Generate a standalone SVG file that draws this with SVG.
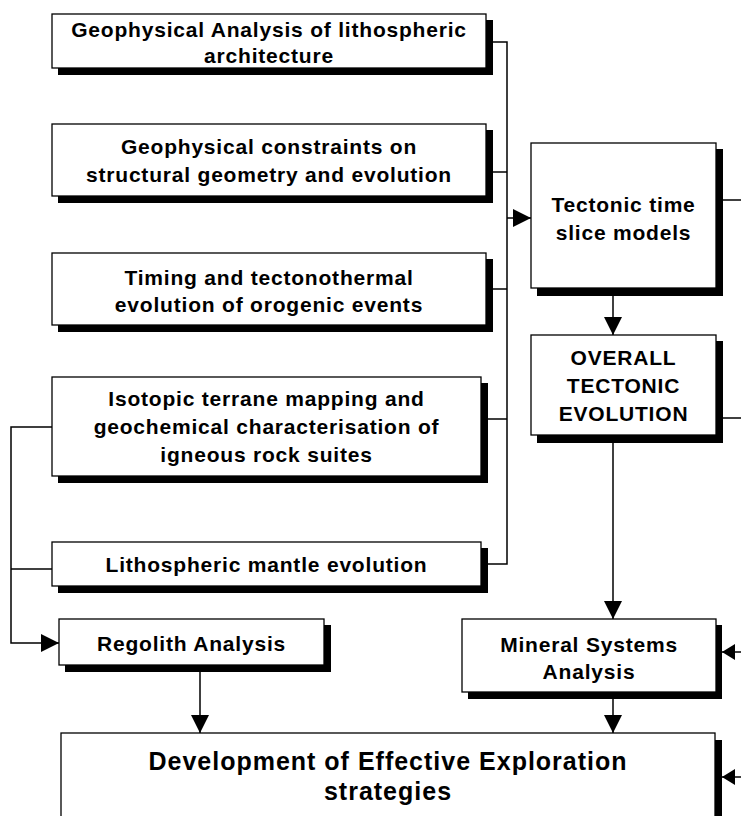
<svg xmlns="http://www.w3.org/2000/svg" width="741" height="816" viewBox="0 0 741 816">
<style>
.box{fill:#fff;stroke:#000;stroke-width:1.3}
.sh{fill:#000}
.t{font-family:"Liberation Sans",Arial,sans-serif;font-weight:bold;font-size:21px;letter-spacing:0.8px;text-anchor:middle;fill:#000}
.big{font-size:25px;letter-spacing:1px}
.c{fill:none;stroke:#000;stroke-width:1.5}
</style>
<defs>
<marker id="arr" viewBox="0 0 18 18" refX="18" refY="9" markerWidth="18" markerHeight="18" markerUnits="userSpaceOnUse" orient="auto"><path d="M0,0 L18,9 L0,18 z" fill="#000"/></marker>
<marker id="arrs" viewBox="0 0 13 16" refX="13" refY="8" markerWidth="13" markerHeight="16" markerUnits="userSpaceOnUse" orient="auto"><path d="M0,0 L13,8 L0,16 z" fill="#000"/></marker>
</defs>
<rect width="741" height="816" fill="#fff"/>
<g id="n1"><rect class="sh" x="58" y="20" width="435" height="55"/><rect class="box" x="52" y="14" width="434" height="54"/><text class="t" x="269" y="37">Geophysical Analysis of lithospheric</text><text class="t" x="269" y="63">architecture</text></g>
<g id="n2"><rect class="sh" x="58" y="130" width="435" height="73"/><rect class="box" x="52" y="124" width="434" height="72"/><text class="t" x="269" y="154">Geophysical constraints on</text><text class="t" x="269" y="182">structural geometry and evolution</text></g>
<g id="n3"><rect class="sh" x="58" y="259" width="435" height="73"/><rect class="box" x="52" y="253" width="434" height="72"/><text class="t" x="269" y="285">Timing and tectonothermal</text><text class="t" x="269" y="312">evolution of orogenic events</text></g>
<g id="n4"><rect class="sh" x="58" y="383" width="430" height="100"/><rect class="box" x="52" y="377" width="429" height="99"/><text class="t" x="266.5" y="406">Isotopic terrane mapping and</text><text class="t" x="266.5" y="434">geochemical characterisation of</text><text class="t" x="266.5" y="462">igneous rock suites</text></g>
<g id="n5"><rect class="sh" x="58" y="548" width="430" height="45"/><rect class="box" x="52" y="542" width="429" height="44"/><text class="t" x="266.5" y="572">Lithospheric mantle evolution</text></g>
<g id="n6"><rect class="sh" x="65" y="625" width="266" height="47"/><rect class="box" x="59" y="619" width="265" height="46"/><text class="t" x="191.5" y="651">Regolith Analysis</text></g>
<g id="n7"><rect class="sh" x="537" y="149" width="186" height="147"/><rect class="box" x="531" y="143" width="185" height="145"/><text class="t" x="623.5" y="212">Tectonic time</text><text class="t" x="623.5" y="240">slice models</text></g>
<g id="n8"><rect class="sh" x="537" y="341" width="186" height="102"/><rect class="box" x="531" y="335" width="185" height="100"/><text class="t" x="623.5" y="365">OVERALL</text><text class="t" x="623.5" y="393">TECTONIC</text><text class="t" x="623.5" y="421">EVOLUTION</text></g>
<g id="n9"><rect class="sh" x="468" y="625" width="254" height="74"/><rect class="box" x="462" y="619" width="254" height="73"/><text class="t" x="589" y="652">Mineral Systems</text><text class="t" x="589" y="679">Analysis</text></g>
<g id="n10"><rect class="sh" x="67" y="740" width="655" height="100"/><rect class="box" x="61" y="733" width="654" height="100"/><text class="t big" x="388" y="770">Development of Effective Exploration</text><text class="t big" x="388" y="800">strategies</text></g>
<g id="connectors">
<path class="c" d="M493,42 H507 V564 H488"/>
<path class="c" d="M493,172 H507"/>
<path class="c" d="M493,289 H507"/>
<path class="c" d="M488,419 H507"/>
<path class="c" d="M507,218 H531" marker-end="url(#arr)"/>
<path class="c" d="M613,296 V335" marker-end="url(#arr)"/>
<path class="c" d="M613,443 V619" marker-end="url(#arr)"/>
<path class="c" d="M613,699 V733" marker-end="url(#arr)"/>
<path class="c" d="M200,672 V733" marker-end="url(#arr)"/>
<path class="c" d="M52,427 H11 V643 H59" marker-end="url(#arr)"/>
<path class="c" d="M52,569 H11"/>
<path class="c" d="M723,200 H741"/>
<path class="c" d="M723,418 H741"/>
<path class="c" d="M741,652 H722" marker-end="url(#arrs)"/>
<path class="c" d="M741,777 H722" marker-end="url(#arrs)"/>
</g>
</svg>
